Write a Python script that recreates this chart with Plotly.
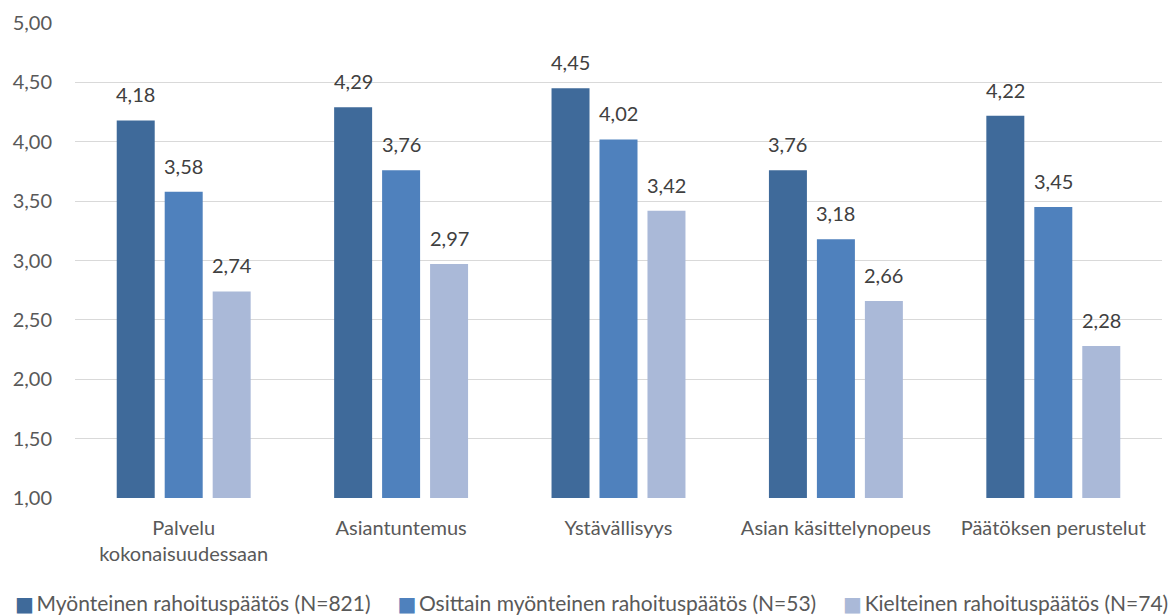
import plotly.graph_objects as go

categories = ["Palvelu<br>kokonaisuudessaan", "Asiantuntemus", "Ystävällisyys",
              "Asian käsittelynopeus", "Päätöksen perustelut"]
series_names = ["Myönteinen rahoituspäätös (N=821)",
                "Osittain myönteinen rahoituspäätös (N=53)",
                "Kielteinen rahoituspäätös (N=74)"]
myonteinen = [4.18, 4.29, 4.45, 3.76, 4.22]
osittain = [3.58, 3.76, 4.02, 3.18, 3.45]
kielteinen = [2.74, 2.97, 3.42, 2.66, 2.28]
colors = ["#3F6A9A", "#4F81BD", "#AAB9D8"]

FONT = "Lato"
FS = 20
TEXT = "#595959"
BARGAP = 0.338
BARGROUPGAP = 0.208
NBSP = "\u00a0"
THIN = "\u2009"

series = [myonteinen, osittain, kielteinen]

fig = go.Figure()
for name, vals, col in zip(series_names, series, colors):
    fig.add_trace(go.Bar(
        x=categories, y=vals, name=name,
        marker=dict(color=col, line=dict(width=0)),
        showlegend=False,
    ))

# value labels above each bar, placed at the centre of its slot in the group
n = len(series)
slot = (1 - BARGAP) / n
for j, vals in enumerate(series):
    off = (j - (n - 1) / 2) * slot
    for i, v in enumerate(vals):
        fig.add_annotation(
            x=i + off, y=v, xref="x", yref="y",
            text=f"{v:.2f}".replace(".", ","),
            showarrow=False, yanchor="bottom", yshift=12,
            font=dict(family=FONT, size=FS, color="#404040"),
        )

# legend row below the plot
legend_parts = []
for name, col in zip(series_names, colors):
    legend_parts.append(
        f"<span style='color:{col};font-family:DejaVu Sans;font-size:20px'>■</span>{THIN}{name}")
fig.add_annotation(
    x=0.475, y=-0.221, xref="paper", yref="paper",
    xanchor="center", yanchor="middle", showarrow=False,
    text=(NBSP * 5).join(legend_parts),
    font=dict(family=FONT, size=21, color=TEXT),
)

fig.update_layout(
    width=1175, height=615,
    margin=dict(l=75, r=13, t=23, b=117),
    paper_bgcolor="white", plot_bgcolor="white",
    separators=", ",
    barmode="group", bargap=BARGAP, bargroupgap=BARGROUPGAP,
    font=dict(family=FONT, size=FS, color=TEXT),
    showlegend=False,
)
fig.update_yaxes(range=[1, 5], dtick=0.5, tick0=1, tickformat=".2f",
                 showgrid=True, gridcolor="#D9D9D9", gridwidth=1,
                 zeroline=False, showline=False, ticks="",
                 ticklabelstandoff=22, automargin=False,
                 tickfont=dict(family=FONT, size=FS, color=TEXT))
fig.update_xaxes(showline=False, ticks="", showgrid=False,
                 ticklabelstandoff=16, automargin=False,
                 tickfont=dict(family=FONT, size=FS, color=TEXT))

fig.write_html("out.html")
